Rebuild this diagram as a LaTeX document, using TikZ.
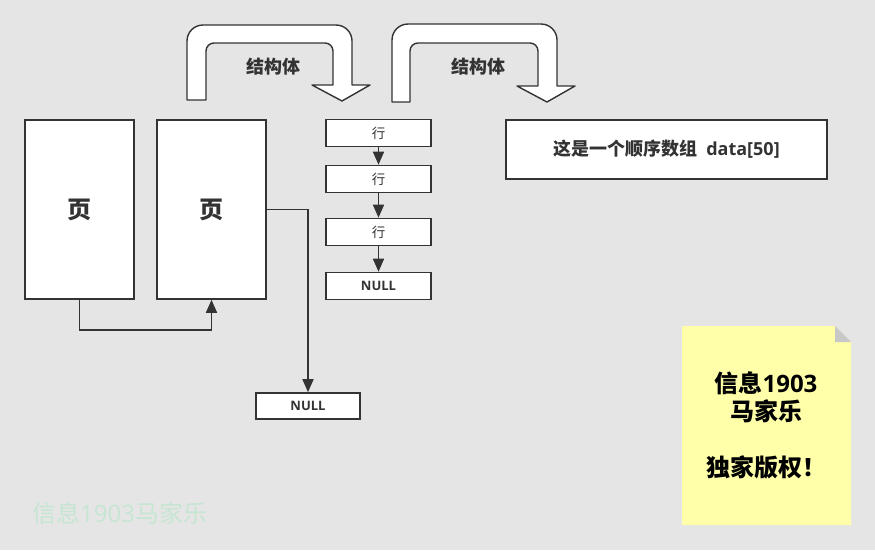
\documentclass[tikz,border=0pt]{standalone}
\usepackage{fontspec}
\setmainfont{Noto Sans CJK SC}
\newfontfamily\latf{Open Sans}
\usetikzlibrary{arrows.meta}
\definecolor{bg}{RGB}{229,229,229}
\definecolor{ln}{RGB}{51,51,51}
\definecolor{notey}{RGB}{255,255,170}
\definecolor{foldc}{RGB}{200,200,200}
\definecolor{wmc}{RGB}{198,230,210}
\begin{document}
\begin{tikzpicture}[x=1pt,y=1pt,yscale=-1,
  box/.style={draw=ln, fill=white, line width=1.6pt, inner sep=0pt, text=ln, font=\bfseries},
  conn/.style={draw=ln, line width=1.6pt, -{Triangle[length=13pt,width=11pt]}},
  uarrow/.style={draw=ln, fill=white, line width=1.4pt, line join=round},
  lbl/.style={text=ln, inner sep=0pt, font=\bfseries\fontsize{18}{20}\selectfont}]
\useasboundingbox (0,0) rectangle (875,550);
\fill[bg] (0,0) rectangle (875,550);

% U-turn arrows
\path[uarrow] (187,100) -- (187,41) arc (180:270:16) -- (336,25) arc (270:360:16)
  -- (352,85) -- (370,85) -- (342,101) -- (312,85) -- (333,85) -- (333,51)
  arc (0:-90:8) -- (214,43) arc (270:180:8) -- (206,100) -- cycle;
\path[uarrow] (392,102) -- (392,40) arc (180:270:16) -- (541,24) arc (270:360:16)
  -- (557,86) -- (575,86) -- (547,102) -- (517,86) -- (538,86) -- (538,51)
  arc (0:-90:8) -- (418,43) arc (270:180:8) -- (410,102) -- cycle;
\node[lbl] (s1) at (273,67) {结构体};
\node[lbl] (s2) at (478,67) {结构体};

% pages
\node[box, minimum width=109pt, minimum height=179pt, font=\bfseries\fontsize{24}{26}\selectfont] (p1) at (79.5,209.5) {页};
\node[box, minimum width=109pt, minimum height=179pt, font=\bfseries\fontsize{24}{26}\selectfont] (p2) at (211.5,209.5) {页};

% rows
\node[box, minimum width=105pt, minimum height=27pt, font=\fontsize{13.5}{15}\selectfont] (r1) at (378.5,133) {行};
\node[box, minimum width=105pt, minimum height=27pt, font=\fontsize{13.5}{15}\selectfont] (r2) at (378.5,179) {行};
\node[box, minimum width=105pt, minimum height=27pt, font=\fontsize{13.5}{15}\selectfont] (r3) at (378.5,232) {行};
\node[box, minimum width=105pt, minimum height=27pt, font=\latf\bfseries\fontsize{13}{15}\selectfont] (rn) at (378.5,286) {NULL};
\node[box, minimum width=104pt, minimum height=26pt, font=\latf\bfseries\fontsize{13}{15}\selectfont] (n2) at (308,406) {NULL};

% data box
\node[box, minimum width=321pt, minimum height=59pt, font=\bfseries\fontsize{18}{20}\selectfont] (data) at (666.5,149.5) {这是一个顺序数组\hspace{9pt}{\latf\bfseries data[50]}};

% connectors
\draw[conn] (p1.south) -- ++(0,30) -| (p2.south);
\draw[conn] (p2.east) -| (n2.north);
\draw[conn] (r1.south) -- (r2.north);
\draw[conn] (r2.south) -- (r3.north);
\draw[conn] (r3.south) -- (rn.north);

% note
\fill[notey] (682,326) -- (835,326) -- (851,342) -- (851,525) -- (682,525) -- cycle;
\fill[foldc] (835,326) -- (851,342) -- (835,342) -- cycle;
\node[align=center, inner sep=0pt, font=\bfseries\fontsize{24}{28}\selectfont] (note) at (766,425.5) {信息{\latf\bfseries 1903}\\马家乐\\[28pt]独家版权！};

% watermark
\node[anchor=west, inner sep=0pt, text=wmc, font=\fontsize{24}{28}\selectfont] (wm) at (32,513) {信息{\latf 1903}马家乐};
\end{tikzpicture}
\end{document}
